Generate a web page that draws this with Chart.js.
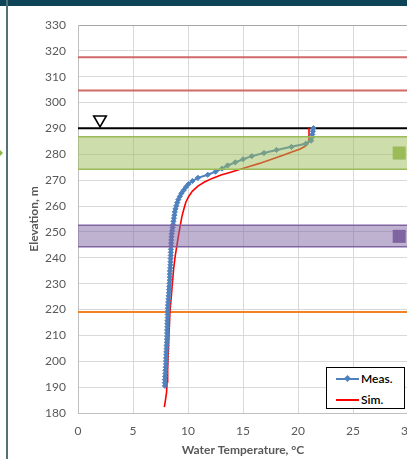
<!DOCTYPE html>
<html>
<head>
<meta charset="utf-8">
<script src="https://cdn.jsdelivr.net/npm/chart.js@4.4.0/dist/chart.umd.min.js"></script>
<style>
  html, body { margin: 0; padding: 0; width: 407px; height: 459px; overflow: hidden; background: #fff; }
  #wrap { position: absolute; left: 0; top: 0; width: 440px; height: 459px; }
  #topbar { position: absolute; left: 0; top: 0; width: 407px; height: 6px; background: #0e4457; }
  #leftline { position: absolute; left: 6px; top: 0; width: 2px; height: 459px; background: #56707a; }
  #arrow { position: absolute; left: 0; top: 150px; width: 0; height: 0; border-top: 3px solid transparent; border-bottom: 3px solid transparent; border-left: 3px solid #8cb84a; }
  #legend { position: absolute; left: 326px; top: 367px; width: 77px; height: 40px; border: 1px solid #000; background: #fff; font: 600 12px Lato, sans-serif; color: #000; }
  .item { position: absolute; left: 0; height: 14px; width: 77px; }
  .swatch { position: absolute; left: 9px; top: 6px; width: 23px; height: 2px; }
  .dot { position: absolute; left: 9px; top: 4px; width: 5px; height: 5px; transform: rotate(45deg); }
  .lbl { position: absolute; left: 34px; top: -1px; }
</style>
</head>
<body>
<div id="wrap"><canvas id="tempChart" width="440" height="459"></canvas></div>
<div id="topbar"></div>
<div id="leftline"></div>
<div id="arrow"></div>
<div id="legend"></div>
<script>
// ejes
const xTicks = [0, 5, 10, 15, 20, 25, 30];
const yTicks = [180, 190, 200, 210, 220, 230, 240, 250, 260, 270, 280, 290, 300, 310, 320, 330];

// perfil medido
const measElev = [190.5, 191.7, 192.9, 194.1, 195.3, 196.5, 197.7, 198.9, 200.1, 201.3, 202.5, 203.7, 204.9, 206.1, 207.3, 208.5,
  209.7, 210.9, 212.1, 213.3, 214.5, 215.7, 216.9, 218.1, 219.3, 220.5, 221.7, 222.9, 224.1, 225.3, 226.5, 227.7, 228.9,
  230.1, 231.3, 232.5, 233.7, 234.9, 236.1, 237.3, 238.5, 239.7, 240.9, 242.1, 243.3, 244.5, 245.7, 246.9, 248.1, 249.3,
  250.5, 251.7, 252.9, 254.1, 255.3, 256.5, 257.7, 258.9, 260.1, 261.3, 262.5, 263.7, 264.9, 266.1, 267.3, 268.5, 269.7,
  270.9, 272.1, 273.3, 274.5, 275.7, 276.9, 278.1, 279.3, 280.5, 281.7, 282.9, 284.1, 285.3, 286.5, 287.7, 288.9, 290.1];
const measTemp = [7.9, 7.9, 7.9, 7.92, 7.95, 7.95, 7.97, 8.0, 8.0, 8.0, 8.02, 8.03, 8.05, 8.05, 8.07, 8.08,
  8.1, 8.1, 8.1, 8.12, 8.12, 8.13, 8.15, 8.15, 8.15, 8.17, 8.18, 8.2, 8.22, 8.24, 8.26, 8.28, 8.3,
  8.32, 8.33, 8.34, 8.35, 8.36, 8.38, 8.4, 8.41, 8.42, 8.43, 8.44, 8.45, 8.46, 8.47, 8.48, 8.5, 8.52,
  8.56, 8.6, 8.65, 8.68, 8.72, 8.76, 8.8, 8.86, 8.94, 9.02, 9.12, 9.25, 9.4, 9.6, 9.8, 10.05, 10.4,
  10.9, 11.8, 12.5, 13.1, 13.6, 14.3, 15.0, 15.8, 16.9, 18.05, 19.4, 20.7, 21.2, 21.25, 21.3, 21.35, 21.4];

// perfil simulado
const simElev = [182.3, 185, 188, 192, 197, 208, 218.6, 226, 231, 236, 241, 245, 249, 252.5, 256, 258.5, 261.5, 263.6,
  265.8, 267.7, 269.3, 270.7, 272, 273, 274, 275.2, 276.5, 278.1, 279.7, 281, 282.1, 283, 283.8, 284.9, 286, 290.3];
const simTemp = [7.85, 7.95, 8.05, 8.1, 8.15, 8.25, 8.35, 8.5, 8.6, 8.7, 8.85, 9.0, 9.15, 9.3, 9.45, 9.6, 9.8, 10.05,
  10.4, 10.9, 11.5, 12.2, 13.0, 13.8, 14.6, 15.5, 16.5, 17.6, 18.7, 19.5, 20.2, 20.6, 20.85, 20.95, 21.0, 21.0];

// niveles y zonas
const redLevels = [317.5, 304.7];
const waterLevel = [290.1];
const orangeLevel = [219.0];
const greenZone = [274.2, 286.8];
const purpleZone = [244.3, 252.6];
const waterSymbolTemp = [2.0];
const waterSymbolElev = [293.4];
const zoneMarkTemp = [29.2];
const greenMarkElev = [280.5];
const purpleMarkElev = [248.3];

const xMin = xTicks[0], xMax = xTicks[xTicks.length - 1];
const toPoints = (xs, ys) => xs.map((x, i) => ({ x: x, y: ys[i] }));
const hline = (y) => [{ x: xMin, y: y }, { x: xMax, y: y }];

function refLine(y, color, width) {
  return { data: hline(y), showLine: true, borderColor: color, borderWidth: width, pointRadius: 0, order: 5, fill: false };
}
function zoneEdge(y, color, fill, fillColor) {
  return { data: hline(y), showLine: true, borderColor: color, borderWidth: 1.5, pointRadius: 0, order: 1,
    fill: fill, backgroundColor: fillColor };
}

const datasets = [
  { label: 'Meas.', legend: true, data: toPoints(measTemp, measElev), showLine: true, borderColor: '#4f81bd', borderWidth: 2,
    pointStyle: 'rectRot', pointRadius: 2.6, pointBackgroundColor: '#4f81bd', pointBorderColor: '#4f81bd', pointBorderWidth: 1, order: 2 },
  { label: 'Sim.', legend: true, data: toPoints(simTemp, simElev), showLine: true, borderColor: '#ff0000', borderWidth: 1.6,
    pointRadius: 0, order: 3 },
  refLine(redLevels[0], '#cf6a67', 2),
  refLine(redLevels[1], '#cf6a67', 2),
  refLine(waterLevel[0], '#000000', 2),
  refLine(orangeLevel[0], '#f58220', 2),
  zoneEdge(greenZone[0], '#9bbb59', false),
  zoneEdge(greenZone[1], '#9bbb59', '-1', 'rgba(155,187,89,0.5)'),
  zoneEdge(purpleZone[0], '#8064a2', false),
  zoneEdge(purpleZone[1], '#8064a2', '-1', 'rgba(128,100,162,0.5)'),
  { data: toPoints(zoneMarkTemp, greenMarkElev), pointStyle: 'rect', pointRadius: 9.2, backgroundColor: '#9bbb59', borderWidth: 0, order: 0 },
  { data: toPoints(zoneMarkTemp, purpleMarkElev), pointStyle: 'rect', pointRadius: 9.2, backgroundColor: '#8064a2', borderWidth: 0, order: 0 },
  { data: toPoints(waterSymbolTemp, waterSymbolElev), pointStyle: 'triangle', rotation: 180, pointRadius: 7.3,
    backgroundColor: '#ffffff', borderColor: '#000000', borderWidth: 1.6, order: 0 }
];

const ctx = document.getElementById('tempChart').getContext('2d');
const chart = new Chart(ctx, {
  type: 'scatter',
  data: { datasets: datasets },
  options: {
    responsive: false,
    animation: false,
    layout: { padding: { left: 8, top: 25, right: 32, bottom: 0 } },
    plugins: { legend: { display: false }, tooltip: { enabled: false } },
    scales: {
      x: {
        type: 'linear', min: xMin, max: xMax,
        afterBuildTicks: (s) => { s.ticks = xTicks.map(v => ({ value: v })); },
        afterFit: (s) => { s.height = 46; },
        ticks: { autoSkip: false, maxRotation: 0, padding: 11, color: '#595959', font: { family: 'Lato', size: 12 } },
        grid: { color: '#d9d9d9', drawTicks: false },
        border: { color: '#bfbfbf' },
        title: { display: true, text: 'Water Temperature, °C', color: '#595959', padding: { top: 0, bottom: 2 },
          font: { family: 'Lato', size: 12, weight: 'bold' } }
      },
      y: {
        type: 'linear', min: yTicks[0], max: yTicks[yTicks.length - 1],
        afterBuildTicks: (s) => { s.ticks = yTicks.map(v => ({ value: v })); },
        afterFit: (s) => { s.width = 70; },
        ticks: { autoSkip: false, padding: 12, color: '#595959', font: { family: 'Lato', size: 12 } },
        grid: { color: (c) => c.tick && c.tick.value === yTicks[yTicks.length - 1] ? '#a6a6a6' : '#d9d9d9', drawTicks: false },
        border: { color: '#bfbfbf' },
        title: { display: true, text: 'Elevation, m', color: '#595959', padding: { top: 19, bottom: 0 },
          font: { family: 'Lato', size: 12, weight: 'bold' } }
      }
    }
  }
});

// leyenda
const legendBox = document.getElementById('legend');
chart.data.datasets.filter(d => d.legend).forEach(function(d, i) {
  const item = document.createElement('div');
  item.className = 'item';
  item.style.top = (4 + i * 21) + 'px';
  item.innerHTML = '<span class="swatch" style="background:' + d.borderColor + '"></span>' +
    (d.pointRadius ? '<span class="dot" style="left:18px;background:' + d.borderColor + '"></span>' : '') +
    '<span class="lbl">' + d.label + '</span>';
  legendBox.appendChild(item);
});
</script>
</body>
</html>
